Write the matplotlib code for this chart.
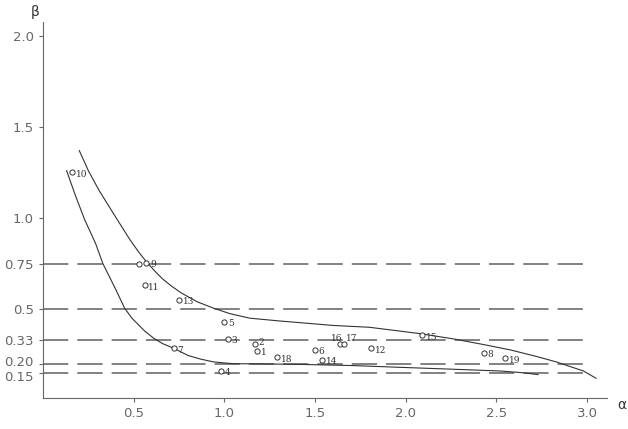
import numpy as np
import matplotlib.pyplot as plt
import matplotlib.transforms as mtransforms

# observation points (alpha, beta) and their numbers
pt_alpha = [0.16, 0.53, 0.57, 0.56, 0.75, 0.72, 1.00, 1.02, 1.17, 1.18, 1.29,
            0.98, 1.50, 1.54, 1.64, 1.66, 1.81, 2.09, 2.43, 2.55]
pt_beta = [1.25, 0.75, 0.755, 0.63, 0.55, 0.285, 0.43, 0.335, 0.31, 0.27, 0.235,
           0.16, 0.275, 0.22, 0.31, 0.31, 0.285, 0.355, 0.26, 0.23]
pt_label = ["10", "", "9", "11", "13", "7", "5", "3", "2", "1", "18",
            "4", "6", "14", "16", "17", "12", "15", "8", "19"]

# upper boundary curve
up_alpha = [0.20, 0.25, 0.31, 0.36, 0.41, 0.48, 0.53, 0.57, 0.62, 0.66, 0.71,
            0.76, 0.85, 0.94, 1.03, 1.14, 1.30, 1.60, 1.80, 2.08, 2.27, 2.43,
            2.58, 2.72, 2.83, 2.92, 2.98, 3.05]
up_beta = [1.37, 1.26, 1.15, 1.07, 0.99, 0.88, 0.81, 0.76, 0.705, 0.665, 0.625,
           0.59, 0.54, 0.505, 0.475, 0.45, 0.435, 0.41, 0.40, 0.365, 0.335, 0.305,
           0.275, 0.24, 0.21, 0.18, 0.16, 0.12]

# lower boundary curve
lo_alpha = [0.13, 0.18, 0.23, 0.29, 0.33, 0.37, 0.40, 0.45, 0.49, 0.52, 0.56,
            0.61, 0.66, 0.72, 0.76, 0.80, 0.87, 0.94, 1.00, 1.05, 1.20, 1.42,
            1.70, 1.97, 2.25, 2.52, 2.65, 2.73]
lo_beta = [1.26, 1.12, 0.99, 0.86, 0.75, 0.67, 0.61, 0.505, 0.45, 0.42, 0.38,
           0.34, 0.31, 0.285, 0.265, 0.245, 0.225, 0.21, 0.204, 0.20, 0.199, 0.196,
           0.19, 0.18, 0.17, 0.16, 0.15, 0.14]

# horizontal reference levels
levels = [0.75, 0.5, 0.33, 0.20, 0.15]

yticks = [0.15, 0.20, 0.33, 0.5, 0.75, 1.0, 1.5, 2.0]
ytick_labels = ["0.15", "0.20", "0.33", "0.5", "0.75", "1.0", "1.5", "2.0"]
xticks = [0.5, 1.0, 1.5, 2.0, 2.5, 3.0]
xtick_labels = ["0.5", "1.0", "1.5", "2.0", "2.5", "3.0"]

grey = "#666666"

fig = plt.figure(figsize=(6.28, 4.29), dpi=100)
ax = fig.add_axes([0.0685, 0.072, 0.898, 0.877])

for lv in levels:
    ax.plot([0, 3.0], [lv, lv], color="#777777", lw=1.3, dashes=(14, 5))

ax.plot(up_alpha, up_beta, color="#333333", lw=0.8)
ax.plot(lo_alpha, lo_beta, color="#333333", lw=0.8)

ax.scatter(pt_alpha, pt_beta, s=14, facecolors="white", edgecolors="#333333",
           linewidths=0.7, zorder=3)
for a, b, lab in zip(pt_alpha, pt_beta, pt_label):
    if not lab:
        continue
    kw = dict(fontsize=6.5, family="DejaVu Serif", color="#333333", va="center")
    # 16 and 17 sit side by side: their numbers go above the circles
    if lab == "16":
        ax.text(a - 0.02, b + 0.03, lab, ha="center", **kw)
    elif lab == "17":
        ax.text(a + 0.04, b + 0.03, lab, ha="center", **kw)
    elif lab == "2":
        ax.text(a + 0.02, b + 0.008, lab, ha="left", **kw)
    else:
        ax.text(a + 0.02, b - 0.01, lab, ha="left", **kw)

ax.set_xlim(0, 3.11)
ax.set_ylim(0.011, 2.077)
ax.set_xticks(xticks)
ax.set_xticklabels(xtick_labels)
ax.set_yticks(yticks)
ax.set_yticklabels(ytick_labels)

for s in ["top", "right"]:
    ax.spines[s].set_visible(False)
for s in ["left", "bottom"]:
    ax.spines[s].set_color(grey)
ax.tick_params(colors=grey, labelsize=9.5, length=3, direction="out")

# the 0.20 and 0.15 labels are close: push them apart a little
for lab in ax.get_yticklabels():
    if lab.get_text() == "0.20":
        lab.set_transform(lab.get_transform() + mtransforms.ScaledTranslation(0, 3 / 100, fig.dpi_scale_trans))
    elif lab.get_text() == "0.15":
        lab.set_transform(lab.get_transform() + mtransforms.ScaledTranslation(0, -3 / 100, fig.dpi_scale_trans))

fig.text(0.056, 0.972, "β", color="#333333", fontsize=10, ha="center", va="center")
fig.text(0.997, 0.055, "α", color="#333333", fontsize=10, ha="right", va="center")

fig.savefig("out.png", dpi=100)
